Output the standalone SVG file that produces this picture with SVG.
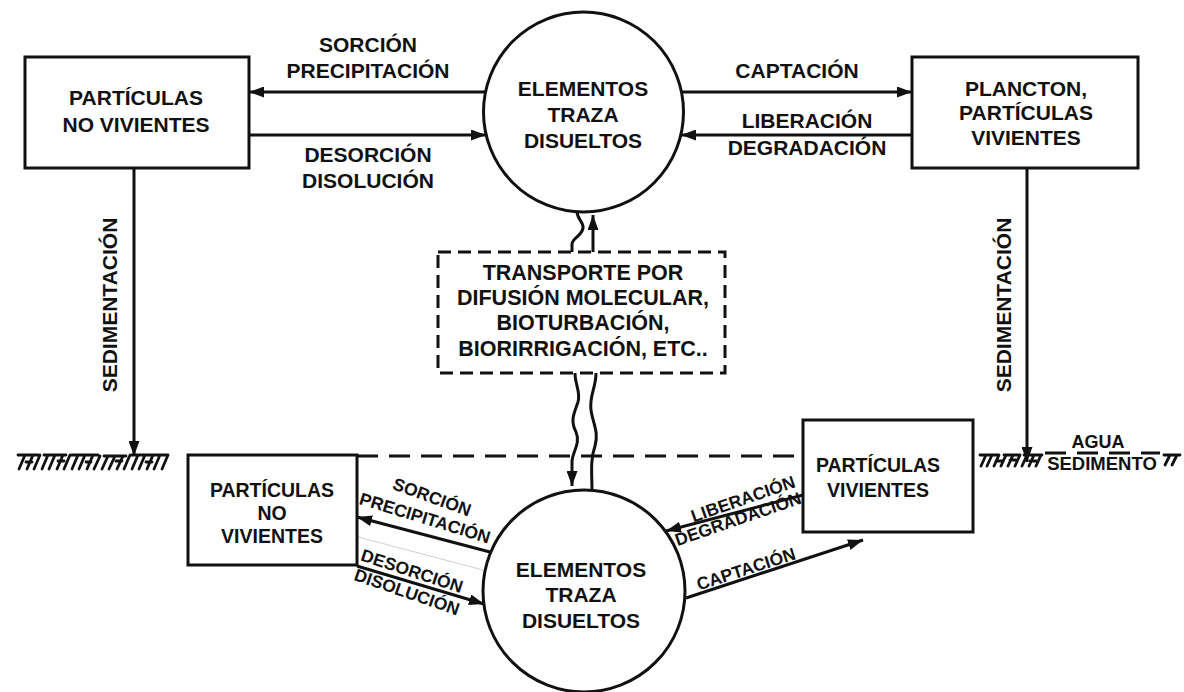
<svg xmlns="http://www.w3.org/2000/svg" width="1184" height="692" viewBox="0 0 1184 692">
<style>
text{font-family:"Liberation Sans",Arial,sans-serif;font-weight:bold;fill:#111;text-anchor:middle}
.big{font-size:21px}
.mid{font-size:19.5px}
.sm{font-size:17.5px}
.box{fill:#fff;stroke:#111;stroke-width:3}
.ln{fill:none;stroke:#111;stroke-width:3}
.dash{fill:none;stroke:#111;stroke-width:3;stroke-dasharray:13 7}
.gnd{fill:none;stroke:#111;stroke-width:3;stroke-dasharray:21 11}
.hatch{fill:none;stroke:#111;stroke-width:2.8;stroke-linecap:round}
</style>
<defs>
<marker id="ah" markerUnits="userSpaceOnUse" markerWidth="15" markerHeight="11" refX="15" refY="5.5" orient="auto">
<path d="M0,0 L15,5.5 L0,11 z" fill="#111"/>
</marker>
</defs>
<rect width="1184" height="692" fill="#fff"/>

<g id="ground">
<path class="gnd" d="M357,456 H803"/>
<path class="gnd" d="M1045,453 H1160"/>
<path class="hatch" d="M18,455 h20 M44,455 h22 M72,455 h26 M104,456 h22 M132,455 h36
M25,455 l-6,14 M33,455 l-6,14 M40,455 l-6,14 M48,455 l-6,14 M55,455 l-6,14 M63,455 l-6,14 M70,455 l-6,14 M78,455 l-6,14 M85,455 l-6,14 M93,455 l-6,14 M100,456 l-6,13 M108,456 l-6,13 M115,456 l-6,13 M123,456 l-6,13 M130,455 l-6,14 M138,455 l-6,14 M145,455 l-6,14 M153,455 l-6,14 M160,455 l-6,14 M168,455 l-6,14
M26,462 h6 M58,461 h6 M86,462 h5 M116,461 h6 M146,462 h6"/>
<path class="hatch" d="M980,455 h18 M1004,455 h16 M1024,455 h18
M986,455 l-5,11 M992,455 l-5,11 M999,455 l-5,11 M1006,455 l-5,11 M1013,455 l-5,11 M1020,455 l-5,11 M1027,455 l-5,11 M1034,455 l-5,11 M1041,455 l-5,11
M996,461 h6 M1010,460 h6 M1030,461 h6"/>
<path class="hatch" d="M1164,455 h16 M1170,455 l-5,10 M1177,455 l-5,10"/>
</g>

<g id="connectors">
<line class="ln" x1="485" y1="92" x2="249" y2="92" marker-end="url(#ah)"/>
<line class="ln" x1="249" y1="135" x2="486" y2="135" marker-end="url(#ah)"/>
<line class="ln" x1="682" y1="92" x2="912" y2="92" marker-end="url(#ah)"/>
<line class="ln" x1="912" y1="135" x2="681" y2="135" marker-end="url(#ah)"/>
<line class="ln" x1="134" y1="168" x2="134" y2="456" marker-end="url(#ah)"/>
<line class="ln" x1="1027" y1="168" x2="1027" y2="462" marker-end="url(#ah)"/>
<path class="ln" d="M577,211 C577,220 584,222 583,228 C582,236 572,238 572,244 L572,252"/>
<line class="ln" x1="593" y1="252" x2="593" y2="215" marker-end="url(#ah)"/>
<path class="ln" d="M575,373 C575,385 581,392 578,402 C574,414 570,420 576,432 C581,444 572,452 572,462 L572,486" marker-end="url(#ah)"/>
<path class="ln" d="M596,373 C596,388 589,396 591,410 C593,424 599,432 595,446 C590,460 592,474 592,490"/>
<line class="ln" x1="490" y1="552" x2="357" y2="517" marker-end="url(#ah)"/>
<line class="ln" x1="357" y1="566" x2="484" y2="604" marker-end="url(#ah)"/>
<line x1="358" y1="537" x2="483" y2="570" stroke="#cfcfcf" stroke-width="1"/>
<line class="ln" x1="803" y1="495" x2="666" y2="531" marker-end="url(#ah)"/>
<line class="ln" x1="686" y1="598" x2="863" y2="540" marker-end="url(#ah)"/>
</g>

<g id="labels">
<text class="big" x="368" y="52">SORCIÓN</text>
<text class="big" x="368" y="78">PRECIPITACIÓN</text>
<text class="big" x="368" y="162">DESORCIÓN</text>
<text class="big" x="368" y="188">DISOLUCIÓN</text>
<text class="big" x="797" y="78">CAPTACIÓN</text>
<text class="big" x="807" y="128">LIBERACIÓN</text>
<text class="big" x="807" y="155">DEGRADACIÓN</text>
<text class="big" transform="translate(117,305) rotate(-90)">SEDIMENTACIÓN</text>
<text class="big" transform="translate(1011,305) rotate(-90)">SEDIMENTACIÓN</text>
<text class="sm" transform="translate(432,497) rotate(20)" y="6">SORCIÓN</text>
<text class="sm" transform="translate(425,518) rotate(17)" y="6">PRECIPITACIÓN</text>
<text class="sm" transform="translate(412,571) rotate(18)" y="6">DESORCIÓN</text>
<text class="sm" transform="translate(407,592) rotate(19)" y="6">DISOLUCIÓN</text>
<text class="sm" transform="translate(743,499) rotate(-19)" y="6">LIBERACIÓN</text>
<text class="sm" transform="translate(738,519) rotate(-19)" y="6">DEGRADACIÓN</text>
<text class="sm" transform="translate(746,569) rotate(-18)" y="6">CAPTACIÓN</text>
<text x="1098" y="448" style="font-size:18px">AGUA</text>
<text x="1102" y="470" style="font-size:18.5px">SEDIMENTO</text>
</g>

<g id="node-npart-top">
<rect class="box" x="25" y="57" width="224" height="111"/>
<text class="big" x="136" y="105">PARTÍCULAS</text>
<text class="big" x="136" y="132">NO VIVIENTES</text>
</g>

<g id="node-etd-top">
<circle class="box" cx="583.5" cy="112" r="100"/>
<text class="big" x="583" y="96">ELEMENTOS</text>
<text class="big" x="583" y="122">TRAZA</text>
<text class="big" x="583" y="148">DISUELTOS</text>
</g>

<g id="node-plancton">
<rect class="box" x="912" y="57" width="226" height="111"/>
<text class="big" x="1026" y="96">PLANCTON,</text>
<text class="big" x="1026" y="120">PARTÍCULAS</text>
<text class="big" x="1026" y="145">VIVIENTES</text>
</g>

<g id="node-transporte">
<rect class="dash" x="438" y="252" width="287" height="121"/>
<text class="big" x="583" y="280" style="font-size:21.5px">TRANSPORTE POR</text>
<text class="big" x="583" y="305" style="font-size:21.5px">DIFUSIÓN MOLECULAR,</text>
<text class="big" x="583" y="330" style="font-size:21.5px">BIOTURBACIÓN,</text>
<text class="big" x="583" y="356" style="font-size:21.5px">BIORIRRIGACIÓN, ETC..</text>
</g>

<g id="node-npart-bottom">
<rect class="box" x="188" y="455" width="169" height="110"/>
<text class="mid" x="272" y="497">PARTÍCULAS</text>
<text class="mid" x="272" y="520">NO</text>
<text class="mid" x="272" y="543">VIVIENTES</text>
</g>

<g id="node-vpart-bottom">
<rect class="box" x="803" y="420" width="170" height="112"/>
<text class="mid" x="878" y="472">PARTÍCULAS</text>
<text class="mid" x="878" y="497">VIVIENTES</text>
</g>

<g id="node-etd-bottom">
<circle class="box" cx="584" cy="591" r="101"/>
<text class="big" x="581" y="577">ELEMENTOS</text>
<text class="big" x="581" y="602">TRAZA</text>
<text class="big" x="581" y="628">DISUELTOS</text>
</g>
</svg>
